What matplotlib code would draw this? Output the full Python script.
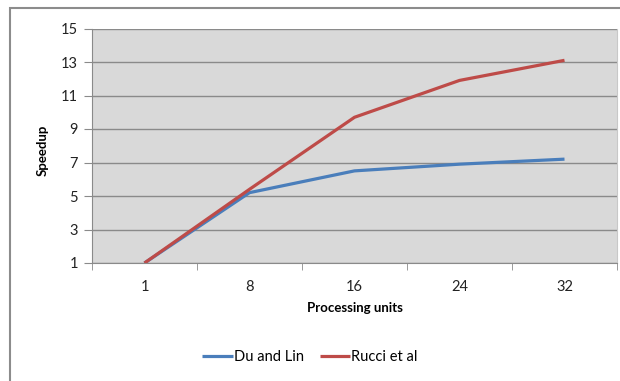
import matplotlib.pyplot as plt
from matplotlib.patches import Rectangle

# datos
categorias = ['1', '8', '16', '24', '32']
du_lin = [1.0, 5.2, 6.5, 6.9, 7.2]
rucci = [1.0, 5.4, 9.7, 11.9, 13.1]
yticks = [1, 3, 5, 7, 9, 11, 13, 15]

plt.rcParams['font.family'] = ['Lato', 'DejaVu Sans']

fig = plt.figure(figsize=(6.2, 3.81), dpi=100)
fig.patch.set_facecolor('white')

# marco exterior del grafico
marco = Rectangle((9.5 / 620, -0.05), 1.1, 1 - 8 / 381 + 0.05,
                  transform=fig.transFigure, fill=False,
                  edgecolor='#8c8c8c', linewidth=1.5, zorder=0)
fig.patches.append(marco)

ax = fig.add_axes([92 / 620, 1 - 263 / 381, 525 / 620, 234.5 / 381])
ax.set_facecolor('#d9d9d9')

x = list(range(len(categorias)))
ax.plot(x, du_lin, color='#4a7ebb', linewidth=2.3, label='Du and Lin', solid_capstyle='butt')
ax.plot(x, rucci, color='#be4b48', linewidth=2.3, label='Rucci et al', solid_capstyle='butt')

ax.set_xlim(-0.5, len(categorias) - 0.5)
ax.set_ylim(1, 15)
ax.set_yticks(yticks)
ax.set_xticks(x)
ax.set_xticklabels(categorias)
ax.set_xticks([i - 0.5 for i in range(len(categorias) + 1)], minor=True)

ax.yaxis.grid(True, color='#8a8a8a', linewidth=1)
ax.set_axisbelow(True)

ax.spines['top'].set_visible(False)
ax.spines['right'].set_color('#c8c8c8')
ax.spines['left'].set_color('#8a8a8a')
ax.spines['bottom'].set_color('#8a8a8a')

ax.tick_params(axis='y', length=6, color='#8a8a8a', labelsize=10.5, pad=4, labelcolor='#222222')
ax.tick_params(axis='x', which='major', length=0, labelsize=10.5, pad=12, labelcolor='#222222')
ax.tick_params(axis='x', which='minor', length=5, color='#8a8a8a')

ax.set_xlabel('Processing units', fontsize=9.5, fontweight='bold')
ax.xaxis.set_label_coords(0.5, -0.165)
ax.set_ylabel('Speedup', fontsize=9.5, fontweight='bold')
ax.yaxis.set_label_coords(-0.082, 0.48)

fig.legend(loc='center', bbox_to_anchor=(0.5, 1 - 357 / 381), ncol=2, frameon=False,
           fontsize=10.5, handlelength=2.1, handletextpad=0.05, columnspacing=1.1)

fig.savefig('out.png', dpi=100)
